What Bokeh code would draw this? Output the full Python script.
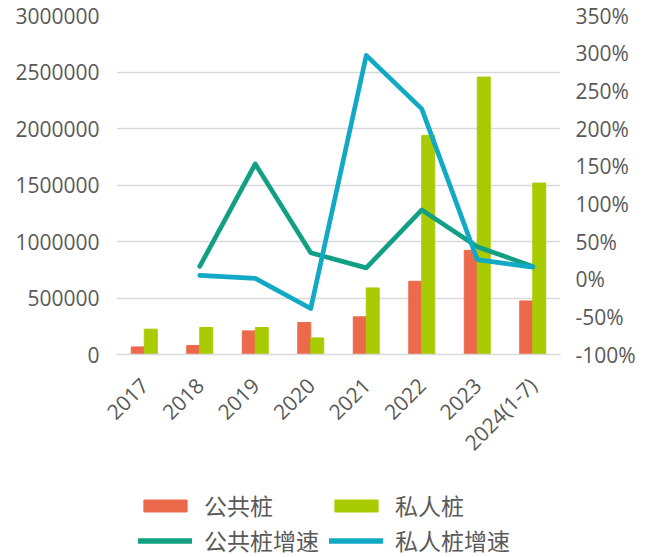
import math
from bokeh.plotting import figure
from bokeh.layouts import column
from bokeh.models import (Range1d, LinearAxis, NumeralTickFormatter, FixedTicker,
                          Legend, LegendItem, ColumnDataSource)
from bokeh.transform import dodge
from bokeh.embed import file_html
from bokeh.resources import INLINE

years = ["2017", "2018", "2019", "2020", "2021", "2022", "2023", "2024(1-7)"]
public_piles = [67000, 80000, 209000, 283000, 333000, 648000, 922000, 474000]
private_piles = [224000, 239000, 239000, 147000, 589000, 1939000, 2455000, 1517000]
growth_years = ["2018", "2019", "2020", "2021", "2022", "2023", "2024(1-7)"]
public_growth = [0.17, 1.53, 0.35, 0.15, 0.92, 0.43, 0.17]
private_growth = [0.05, 0.01, -0.39, 2.97, 2.26, 0.26, 0.16]
left_ticks = [0, 500000, 1000000, 1500000, 2000000, 2500000, 3000000]
right_ticks = [-1.0, -0.5, 0.0, 0.5, 1.0, 1.5, 2.0, 2.5, 3.0, 3.5]
legend_labels = ["公共桩", "私人桩", "公共桩增速", "私人桩增速"]

ORANGE = "#EC6A4C"
GREEN = "#A9CB03"
TEAL = "#12A085"
BLUE = "#12A9C5"
TXT = "#595959"
GRID = "#D9D9D9"
FONT = "Open Sans"
CJK = "Noto Sans CJK SC"

p = figure(width=653, height=480, x_range=years, y_range=Range1d(0, 3000000),
           output_backend="svg", toolbar_location=None,
           min_border_left=116, min_border_right=93, min_border_top=15,
           min_border_bottom=126)
p.extra_y_ranges = {"pct": Range1d(-1.0, 3.5)}
p.outline_line_color = None
p.background_fill_color = "white"
p.border_fill_color = "white"

p.xgrid.visible = False
p.ygrid.ticker = FixedTicker(ticks=left_ticks)
p.ygrid.grid_line_color = GRID
p.ygrid.grid_line_width = 1.5

src = ColumnDataSource(dict(years=years, public=public_piles, private=private_piles))
bw = 0.234
p.vbar(x=dodge("years", -bw / 2, range=p.x_range), top="public", width=bw,
       color=ORANGE, source=src)
p.vbar(x=dodge("years", bw / 2, range=p.x_range), top="private", width=bw,
       color=GREEN, source=src)

p.line(x=growth_years, y=public_growth, y_range_name="pct", line_width=4.7,
       color=TEAL, line_join="round", line_cap="round")
p.line(x=growth_years, y=private_growth, y_range_name="pct", line_width=4.7,
       color=BLUE, line_join="round", line_cap="round")

# left axis
ya = p.yaxis[0]
ya.ticker = FixedTicker(ticks=left_ticks)
ya.formatter = NumeralTickFormatter(format="0")

# right axis
ra = LinearAxis(y_range_name="pct", ticker=FixedTicker(ticks=right_ticks),
                formatter=NumeralTickFormatter(format="0%"))
p.add_layout(ra, "right")

for ax, so in [(ya, 17), (ra, 15)]:
    ax.axis_line_color = None
    ax.major_tick_line_color = None
    ax.minor_tick_line_color = None
    ax.major_tick_out = 0
    ax.major_tick_in = 0
    ax.major_label_text_font = FONT
    ax.major_label_text_font_size = "21px"
    ax.major_label_text_color = TXT
    ax.major_label_standoff = so

xa = p.xaxis[0]
xa.axis_line_color = GRID
xa.axis_line_width = 1.5
xa.major_tick_line_color = None
xa.minor_tick_line_color = None
xa.major_tick_out = 0
xa.major_tick_in = 0
xa.major_label_orientation = math.pi / 4
xa.major_label_text_font = FONT
xa.major_label_text_font_size = "21px"
xa.major_label_text_color = TXT
xa.major_label_standoff = 27

# legend figure (swatches only; its dummy glyphs lie outside its visible range)
lg = figure(width=653, height=77, x_range=Range1d(0, 1), y_range=Range1d(0, 1),
            output_backend="svg", toolbar_location=None,
            min_border_left=0, min_border_right=0, min_border_top=0,
            min_border_bottom=0)
lg.axis.visible = False
lg.grid.visible = False
lg.outline_line_color = None
lg.background_fill_color = "white"
lg.border_fill_color = "white"
s1 = lg.vbar(x=[-5], top=[-5], bottom=[-5], width=0.0, color=ORANGE)
s2 = lg.vbar(x=[-5], top=[-5], bottom=[-5], width=0.0, color=GREEN)
s3 = lg.line(x=[-5, -4], y=[-5, -5], line_width=5.5, color=TEAL, line_cap="round")
s4 = lg.line(x=[-5, -4], y=[-5, -5], line_width=5.5, color=BLUE, line_cap="round")

legend = Legend(items=[LegendItem(label=legend_labels[0], renderers=[s1]),
                       LegendItem(label=legend_labels[1], renderers=[s2]),
                       LegendItem(label=legend_labels[2], renderers=[s3]),
                       LegendItem(label=legend_labels[3], renderers=[s4])],
                location=(22, 0), orientation="horizontal", ncols=2,
                glyph_width=54, glyph_height=15, label_height=20,
                label_width=124,
                label_standoff=12, spacing=1, padding=0, margin=0,
                border_line_color=None, background_fill_alpha=0,
                label_text_font=CJK, label_text_font_size="23px",
                label_text_color=TXT)
lg.add_layout(legend)

layout = column(p, lg, spacing=0)
open("out.html", "w").write(file_html(layout, INLINE))
